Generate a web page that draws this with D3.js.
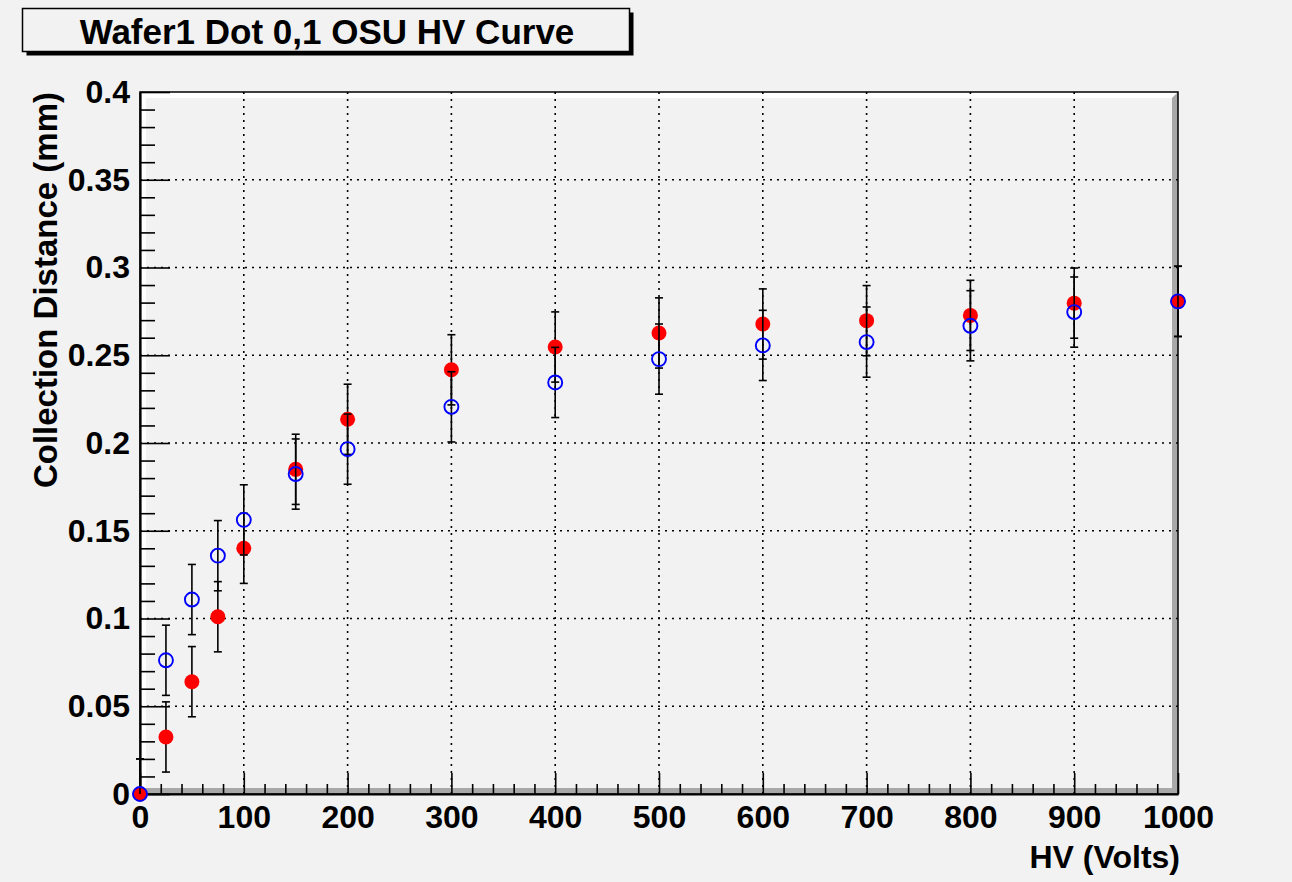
<!DOCTYPE html>
<html>
<head>
<meta charset="utf-8">
<script src="https://cdn.jsdelivr.net/npm/d3@7"></script>
<style>
  body { margin: 0; background: #f2f2f2; }
  text { font-family: "Liberation Sans", Arial, sans-serif; font-weight: bold; }
</style>
</head>
<body>
<div id="canvas"></div>
<script>
// Datos
const hv = [0, 25, 50, 75, 100, 150, 200, 300, 400, 500, 600, 700, 800, 900, 1000];
const redCD = [0, 0.0325, 0.064, 0.101, 0.140, 0.185, 0.2135, 0.2417, 0.2547, 0.2627, 0.2678, 0.2697, 0.2727, 0.2797, 0.2807];
const blueCD = [0, 0.0762, 0.1108, 0.1358, 0.1562, 0.1823, 0.1965, 0.2206, 0.2345, 0.2478, 0.2556, 0.2575, 0.2668, 0.2746, 0.2807];
const redErr = [0.02, 0.02, 0.02, 0.02, 0.02, 0.02, 0.02, 0.02, 0.02, 0.02, 0.02, 0.02, 0.02, 0.02, 0.02];
const blueErr = [0.02, 0.02, 0.02, 0.02, 0.02, 0.02, 0.02, 0.02, 0.02, 0.02, 0.02, 0.02, 0.02, 0.02, 0.02];
const xTicks = [0, 100, 200, 300, 400, 500, 600, 700, 800, 900, 1000];
const yTicks = [0, 0.05, 0.1, 0.15, 0.2, 0.25, 0.3, 0.35, 0.4];
const yTickLabels = ["0", "0.05", "0.1", "0.15", "0.2", "0.25", "0.3", "0.35", "0.4"];
const titleText = "Wafer1 Dot 0,1 OSU HV Curve";
const xTitle = "HV (Volts)";
const yTitle = "Collection Distance (mm)";

// Caracteristicas del canvas
const width = 1292;
const height = 882;
const margin = {top: 92, left: 140, bottom: 88, right: 114};
const iwidth = width - margin.left - margin.right;
const iheight = height - margin.top - margin.bottom;

const svg = d3.select("#canvas").append("svg")
    .attr("width", width)
    .attr("height", height);

svg.append("rect").attr("width", width).attr("height", height).attr("fill", "#f2f2f2");

// Titulo con sombra
svg.append("rect").attr("x", 26.5).attr("y", 12.5).attr("width", 607).attr("height", 43).attr("fill", "black");
svg.append("rect").attr("x", 22.5).attr("y", 8.5).attr("width", 607).attr("height", 43)
    .attr("fill", "#f2f2f2").attr("stroke", "black").attr("stroke-width", 1.5);
svg.append("text")
    .attr("x", 327).attr("y", 43.5)
    .attr("text-anchor", "middle")
    .style("font-size", "35px")
    .text(titleText);

const g = svg.append("g").attr("transform", `translate(${margin.left}, ${margin.top})`);

const x = d3.scaleLinear().domain([0, 1000]).range([0, iwidth]);
const y = d3.scaleLinear().domain([0, 0.4]).range([iheight, 0]);

// Marco con bisel
const b = 6;
g.append("rect").attr("width", iwidth).attr("height", iheight).attr("fill", "#f2f2f2");
g.append("polygon").attr("fill", "white")
    .attr("points", `0,0 ${iwidth},0 ${iwidth - b},${b} ${b},${b} ${b},${iheight - b} 0,${iheight}`);
g.append("polygon").attr("fill", "#a8a8a8")
    .attr("points", `0,${iheight} ${b},${iheight - b} ${iwidth - b},${iheight - b} ${iwidth - b},${b} ${iwidth},0 ${iwidth},${iheight}`);

// Rejilla punteada
g.append("g").selectAll("line").data(xTicks.slice(1, -1)).enter().append("line")
    .attr("x1", d => x(d)).attr("x2", d => x(d))
    .attr("y1", 0).attr("y2", iheight)
    .attr("stroke", "black").attr("stroke-width", 1.6).attr("stroke-dasharray", "2,5");
g.append("g").selectAll("line").data(yTicks.slice(1, -1)).enter().append("line")
    .attr("x1", 0).attr("x2", iwidth)
    .attr("y1", d => y(d)).attr("y2", d => y(d))
    .attr("stroke", "black").attr("stroke-width", 1.6).attr("stroke-dasharray", "2,5");

g.append("rect").attr("width", iwidth).attr("height", iheight)
    .attr("fill", "none").attr("stroke", "black").attr("stroke-width", 1.5);

// Ejes
const xMinor = d3.range(0, 1001, 20).filter(v => v % 100 !== 0);
const yMinor = d3.range(0, 41, 1).map(v => v / 100).filter((v, i) => i % 5 !== 0);

const xAxis = g.append("g").attr("transform", `translate(0, ${iheight})`)
    .call(d3.axisBottom(x).tickValues(xTicks).tickFormat(d3.format("d"))
        .tickSizeInner(-21).tickSizeOuter(0).tickPadding(11));
g.append("g").attr("transform", `translate(0, ${iheight})`)
    .call(d3.axisBottom(x).tickValues(xMinor).tickFormat("").tickSizeInner(-10).tickSizeOuter(0))
    .select(".domain").remove();

const yAxis = g.append("g")
    .call(d3.axisLeft(y).tickValues(yTicks).tickFormat((d, i) => yTickLabels[i])
        .tickSizeInner(-30).tickSizeOuter(0).tickPadding(10));
g.append("g")
    .call(d3.axisLeft(y).tickValues(yMinor).tickFormat("").tickSizeInner(-15).tickSizeOuter(0))
    .select(".domain").remove();

g.selectAll(".tick line").attr("stroke-width", 1.6);
g.selectAll(".domain").attr("stroke-width", 2.2);
xAxis.selectAll("text").style("font-size", "32px").attr("fill", "black");
yAxis.selectAll("text").style("font-size", "32px").attr("fill", "black");

// Titulos de los ejes
svg.append("text")
    .attr("x", margin.left + iwidth + 2).attr("y", 868)
    .attr("text-anchor", "end")
    .style("font-size", "32px")
    .text(xTitle);
svg.append("text")
    .attr("transform", `translate(57, ${margin.top}) rotate(-90)`)
    .attr("text-anchor", "end")
    .style("font-size", "33px")
    .text(yTitle);

// Barras de error y marcadores
function drawSeries(vals, errs, filled, color) {
    const pts = hv.map((h, i) => ({h: h, v: vals[i], e: errs[i]}));
    const eg = g.append("g").attr("stroke", "black").attr("stroke-width", 1.6);
    pts.forEach(p => {
        const lo = Math.max(p.v - p.e, 0);
        const hi = Math.min(p.v + p.e, 0.4);
        eg.append("line").attr("x1", x(p.h)).attr("x2", x(p.h)).attr("y1", y(lo)).attr("y2", y(hi));
        [p.v - p.e, p.v + p.e].forEach(c => {
            if (c >= 0 && c <= 0.4) {
                eg.append("line").attr("x1", x(p.h) - 4).attr("x2", x(p.h) + 4).attr("y1", y(c)).attr("y2", y(c));
            }
        });
    });
    g.append("g").selectAll("circle").data(pts).enter().append("circle")
        .attr("cx", d => x(d.h)).attr("cy", d => y(d.v))
        .attr("r", filled ? 7.5 : 7)
        .attr("fill", filled ? color : "none")
        .attr("stroke", filled ? "none" : color)
        .attr("stroke-width", 1.9);
}

drawSeries(redCD, redErr, true, "#ff0000");
drawSeries(blueCD, blueErr, false, "#0000ff");
</script>
</body>
</html>
